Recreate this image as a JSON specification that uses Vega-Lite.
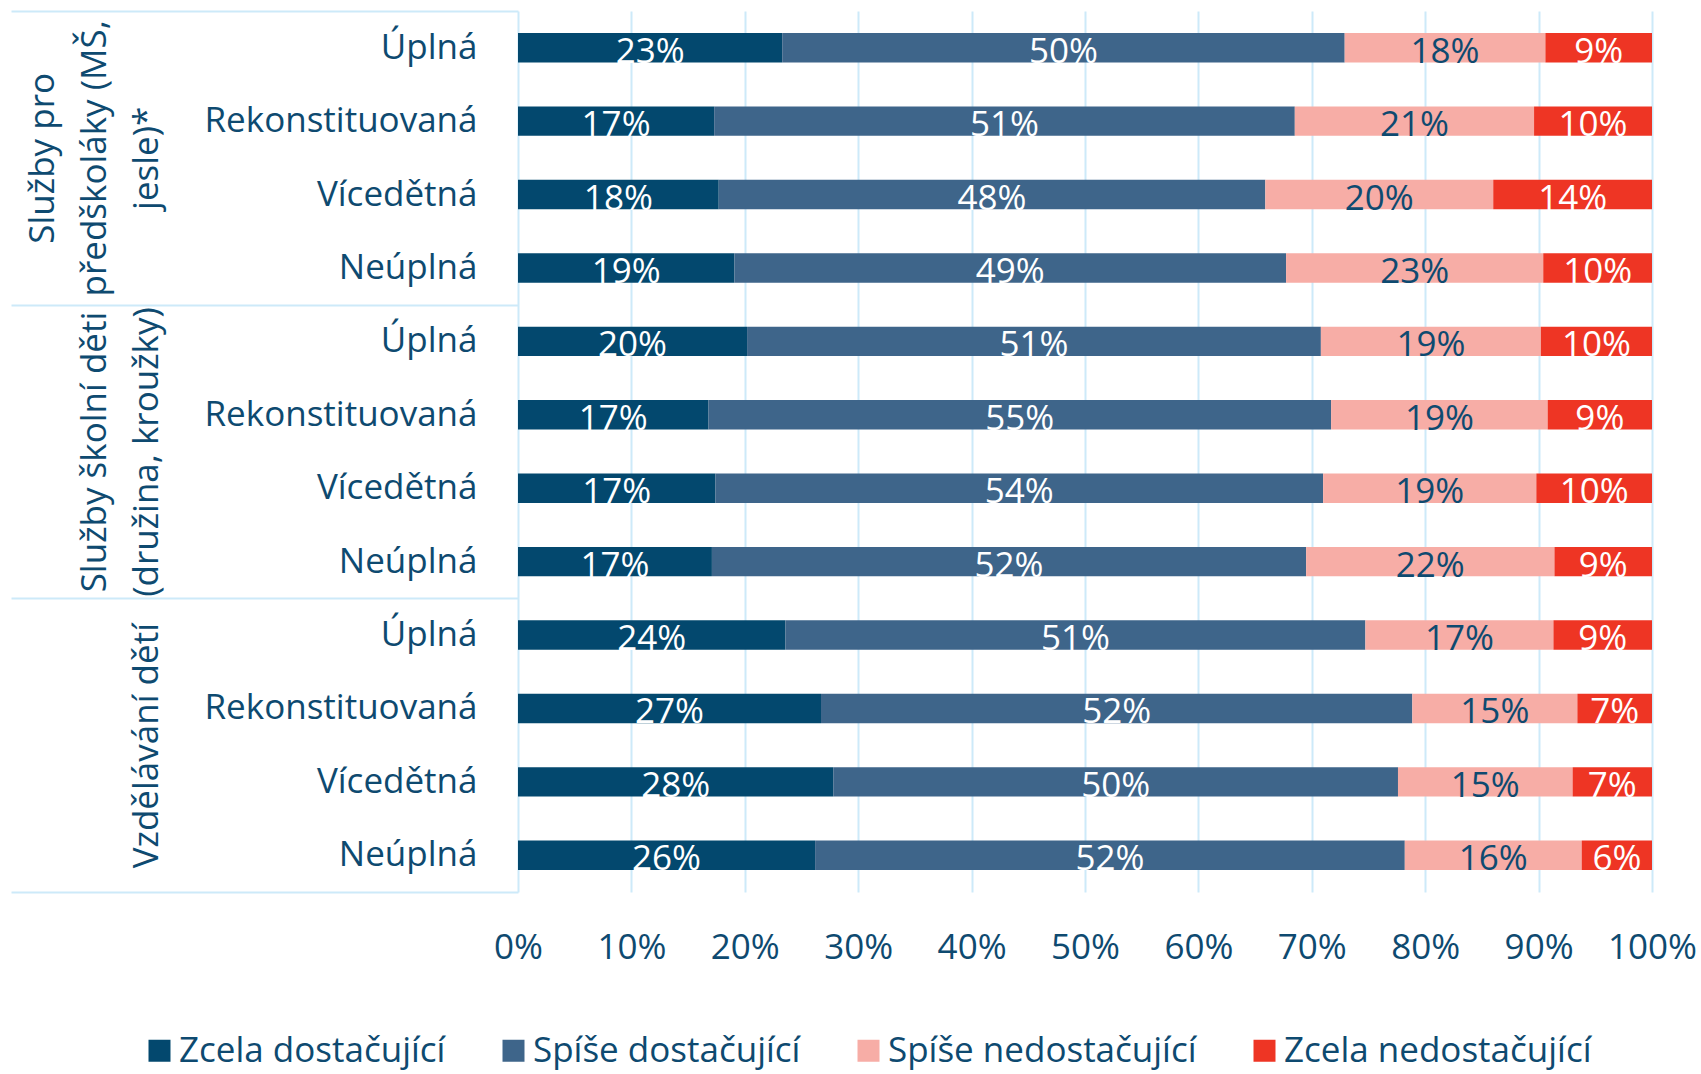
{
  "$schema": "https://vega.github.io/schema/vega-lite/v6.json",
  "width": 1134,
  "height": 881,
  "autosize": {"type": "none"},
  "padding": {"left": 518, "top": 11, "right": 49, "bottom": 182},
  "background": "white",
  "config": {
    "view": {"stroke": null},
    "font": "Open Sans",
    "axis": {"labelFont": "Open Sans"},
    "legend": {"labelFont": "Open Sans"}
  },
  "datasets": {
    "hodnoty": [
      {"radek": "Předškoláci|Úplná", "hodnoceni": "Zcela dostačující", "poradi": 1, "podil": 0.233},
      {"radek": "Předškoláci|Úplná", "hodnoceni": "Spíše dostačující", "poradi": 2, "podil": 0.496},
      {"radek": "Předškoláci|Úplná", "hodnoceni": "Spíše nedostačující", "poradi": 3, "podil": 0.177},
      {"radek": "Předškoláci|Úplná", "hodnoceni": "Zcela nedostačující", "poradi": 4, "podil": 0.094},
      {"radek": "Předškoláci|Rekonstituovaná", "hodnoceni": "Zcela dostačující", "poradi": 1, "podil": 0.173},
      {"radek": "Předškoláci|Rekonstituovaná", "hodnoceni": "Spíše dostačující", "poradi": 2, "podil": 0.512},
      {"radek": "Předškoláci|Rekonstituovaná", "hodnoceni": "Spíše nedostačující", "poradi": 3, "podil": 0.211},
      {"radek": "Předškoláci|Rekonstituovaná", "hodnoceni": "Zcela nedostačující", "poradi": 4, "podil": 0.104},
      {"radek": "Předškoláci|Vícedětná", "hodnoceni": "Zcela dostačující", "poradi": 1, "podil": 0.177},
      {"radek": "Předškoláci|Vícedětná", "hodnoceni": "Spíše dostačující", "poradi": 2, "podil": 0.482},
      {"radek": "Předškoláci|Vícedětná", "hodnoceni": "Spíše nedostačující", "poradi": 3, "podil": 0.201},
      {"radek": "Předškoláci|Vícedětná", "hodnoceni": "Zcela nedostačující", "poradi": 4, "podil": 0.140},
      {"radek": "Předškoláci|Neúplná", "hodnoceni": "Zcela dostačující", "poradi": 1, "podil": 0.191},
      {"radek": "Předškoláci|Neúplná", "hodnoceni": "Spíše dostačující", "poradi": 2, "podil": 0.487},
      {"radek": "Předškoláci|Neúplná", "hodnoceni": "Spíše nedostačující", "poradi": 3, "podil": 0.227},
      {"radek": "Předškoláci|Neúplná", "hodnoceni": "Zcela nedostačující", "poradi": 4, "podil": 0.096},
      {"radek": "Školní děti|Úplná", "hodnoceni": "Zcela dostačující", "poradi": 1, "podil": 0.202},
      {"radek": "Školní děti|Úplná", "hodnoceni": "Spíše dostačující", "poradi": 2, "podil": 0.506},
      {"radek": "Školní děti|Úplná", "hodnoceni": "Spíše nedostačující", "poradi": 3, "podil": 0.194},
      {"radek": "Školní děti|Úplná", "hodnoceni": "Zcela nedostačující", "poradi": 4, "podil": 0.098},
      {"radek": "Školní děti|Rekonstituovaná", "hodnoceni": "Zcela dostačující", "poradi": 1, "podil": 0.168},
      {"radek": "Školní děti|Rekonstituovaná", "hodnoceni": "Spíše dostačující", "poradi": 2, "podil": 0.549},
      {"radek": "Školní děti|Rekonstituovaná", "hodnoceni": "Spíše nedostačující", "poradi": 3, "podil": 0.191},
      {"radek": "Školní děti|Rekonstituovaná", "hodnoceni": "Zcela nedostačující", "poradi": 4, "podil": 0.092},
      {"radek": "Školní děti|Vícedětná", "hodnoceni": "Zcela dostačující", "poradi": 1, "podil": 0.174},
      {"radek": "Školní děti|Vícedětná", "hodnoceni": "Spíše dostačující", "poradi": 2, "podil": 0.536},
      {"radek": "Školní děti|Vícedětná", "hodnoceni": "Spíše nedostačující", "poradi": 3, "podil": 0.188},
      {"radek": "Školní děti|Vícedětná", "hodnoceni": "Zcela nedostačující", "poradi": 4, "podil": 0.102},
      {"radek": "Školní děti|Neúplná", "hodnoceni": "Zcela dostačující", "poradi": 1, "podil": 0.171},
      {"radek": "Školní děti|Neúplná", "hodnoceni": "Spíše dostačující", "poradi": 2, "podil": 0.524},
      {"radek": "Školní děti|Neúplná", "hodnoceni": "Spíše nedostačující", "poradi": 3, "podil": 0.219},
      {"radek": "Školní děti|Neúplná", "hodnoceni": "Zcela nedostačující", "poradi": 4, "podil": 0.086},
      {"radek": "Vzdělávání|Úplná", "hodnoceni": "Zcela dostačující", "poradi": 1, "podil": 0.236},
      {"radek": "Vzdělávání|Úplná", "hodnoceni": "Spíše dostačující", "poradi": 2, "podil": 0.512},
      {"radek": "Vzdělávání|Úplná", "hodnoceni": "Spíše nedostačující", "poradi": 3, "podil": 0.166},
      {"radek": "Vzdělávání|Úplná", "hodnoceni": "Zcela nedostačující", "poradi": 4, "podil": 0.087},
      {"radek": "Vzdělávání|Rekonstituovaná", "hodnoceni": "Zcela dostačující", "poradi": 1, "podil": 0.268},
      {"radek": "Vzdělávání|Rekonstituovaná", "hodnoceni": "Spíše dostačující", "poradi": 2, "podil": 0.523},
      {"radek": "Vzdělávání|Rekonstituovaná", "hodnoceni": "Spíše nedostačující", "poradi": 3, "podil": 0.146},
      {"radek": "Vzdělávání|Rekonstituovaná", "hodnoceni": "Zcela nedostačující", "poradi": 4, "podil": 0.066},
      {"radek": "Vzdělávání|Vícedětná", "hodnoceni": "Zcela dostačující", "poradi": 1, "podil": 0.278},
      {"radek": "Vzdělávání|Vícedětná", "hodnoceni": "Spíše dostačující", "poradi": 2, "podil": 0.498},
      {"radek": "Vzdělávání|Vícedětná", "hodnoceni": "Spíše nedostačující", "poradi": 3, "podil": 0.154},
      {"radek": "Vzdělávání|Vícedětná", "hodnoceni": "Zcela nedostačující", "poradi": 4, "podil": 0.070},
      {"radek": "Vzdělávání|Neúplná", "hodnoceni": "Zcela dostačující", "poradi": 1, "podil": 0.262},
      {"radek": "Vzdělávání|Neúplná", "hodnoceni": "Spíše dostačující", "poradi": 2, "podil": 0.520},
      {"radek": "Vzdělávání|Neúplná", "hodnoceni": "Spíše nedostačující", "poradi": 3, "podil": 0.156},
      {"radek": "Vzdělávání|Neúplná", "hodnoceni": "Zcela nedostačující", "poradi": 4, "podil": 0.062}
    ],
    "skupiny": [
      {"skupina": "Služby pro předškoláky (MŠ, jesle)*"},
      {"skupina": "Služby školní děti (družina, kroužky)"},
      {"skupina": "Vzdělávání dětí"}
    ]
  },
  "resolve": {"scale": {"y": "independent"}, "axis": {"y": "independent"}},
  "layer": [
    {
      "data": {"name": "hodnoty"},
      "encoding": {
        "y": {
          "field": "radek",
          "type": "nominal",
          "sort": null,
          "scale": {"paddingInner": 0.6, "paddingOuter": 0.3},
          "axis": {
            "title": null,
            "labelExpr": "split(datum.label, '|')[1]",
            "domain": false,
            "ticks": false,
            "tickSize": 0,
            "grid": false,
            "labelPadding": 41,
            "labelFontSize": 35,
            "labelColor": "#0E4A70",
            "labelAlign": "right",
            "labelBaseline": "middle",
            "labelLimit": 0
          }
        },
        "x": {
          "field": "podil",
          "type": "quantitative",
          "stack": "normalize",
          "scale": {"domain": [0, 1], "nice": false},
          "axis": {
            "title": null,
            "format": ".0%",
            "values": [0, 0.1, 0.2, 0.3, 0.4, 0.5, 0.6, 0.7, 0.8, 0.9, 1],
            "grid": true,
            "gridColor": "#CDEAF9",
            "gridWidth": 2,
            "domain": false,
            "ticks": false,
            "tickSize": 0,
            "labelPadding": 38,
            "labelFontSize": 35,
            "labelColor": "#0E4A70",
            "labelFlush": false,
            "labelOverlap": false
          }
        },
        "order": {"field": "poradi", "type": "quantitative"}
      },
      "layer": [
        {
          "mark": {"type": "bar"},
          "encoding": {
            "color": {
              "field": "hodnoceni",
              "type": "nominal",
              "sort": ["Zcela dostačující", "Spíše dostačující", "Spíše nedostačující", "Zcela nedostačující"],
              "scale": {
                "domain": ["Zcela dostačující", "Spíše dostačující", "Spíše nedostačující", "Zcela nedostačující"],
                "range": ["#03486E", "#3E658A", "#F7ADA6", "#EE3524"]
              },
              "legend": {
                "title": null,
                "orient": "none",
                "direction": "horizontal",
                "legendX": -376,
                "legendY": 1022,
                "symbolType": "square",
                "symbolSize": 484,
                "symbolStrokeWidth": 0,
                "labelFontSize": 35,
                "labelColor": "#0E4A70",
                "labelOffset": 2,
                "columnPadding": 50,
                "padding": 0,
                "labelLimit": 0
              }
            }
          }
        },
        {
          "mark": {"type": "text", "fontSize": 35, "baseline": "middle", "align": "center", "dy": 4},
          "encoding": {
            "x": {"field": "podil", "type": "quantitative", "stack": "normalize", "bandPosition": 0.5},
            "detail": {"field": "hodnoceni", "type": "nominal"},
            "text": {"field": "podil", "type": "quantitative", "format": ".0%"},
            "color": {
              "condition": {"test": "datum.hodnoceni === 'Spíše nedostačující'", "value": "#0E4A70"},
              "value": "#FFFFFF"
            }
          }
        }
      ]
    },
    {
      "data": {"name": "skupiny"},
      "mark": {"type": "point", "opacity": 0},
      "encoding": {
        "y": {
          "field": "skupina",
          "type": "nominal",
          "sort": null,
          "scale": {"paddingInner": 0, "paddingOuter": 0},
          "axis": {
            "title": null,
            "orient": "left",
            "labels": false,
            "domain": false,
            "grid": false,
            "ticks": true,
            "tickBand": "extent",
            "tickSize": 507,
            "tickColor": "#CDEAF9",
            "tickWidth": 2
          }
        }
      }
    },
    {
      "data": {"name": "skupiny"},
      "mark": {"type": "point", "opacity": 0},
      "encoding": {
        "y": {
          "field": "skupina",
          "type": "nominal",
          "sort": null,
          "scale": {"paddingInner": 0, "paddingOuter": 0},
          "axis": {
            "title": null,
            "orient": "left",
            "labelExpr": "datum.value === 'Vzdělávání dětí' ? 'Vzdělávání dětí' : datum.value === 'Služby školní děti (družina, kroužky)' ? ['Služby školní děti', '(družina, kroužky)'] : ['Služby pro', 'předškoláky (MŠ,', 'jesle)*']",
            "domain": false,
            "grid": false,
            "ticks": false,
            "tickSize": 0,
            "labelPadding": {
              "condition": [
                {"test": "datum.value === 'Vzdělávání dětí'", "value": 389},
                {"test": "datum.value === 'Služby školní děti (družina, kroužky)'", "value": 441}
              ],
              "value": 493
            },
            "labelAngle": 270,
            "labelAlign": "center",
            "labelBaseline": "top",
            "labelFontSize": 35,
            "labelColor": "#0E4A70",
            "labelLineHeight": 52,
            "labelOverlap": false,
            "labelBound": false,
            "labelLimit": 0
          }
        }
      }
    }
  ]
}
